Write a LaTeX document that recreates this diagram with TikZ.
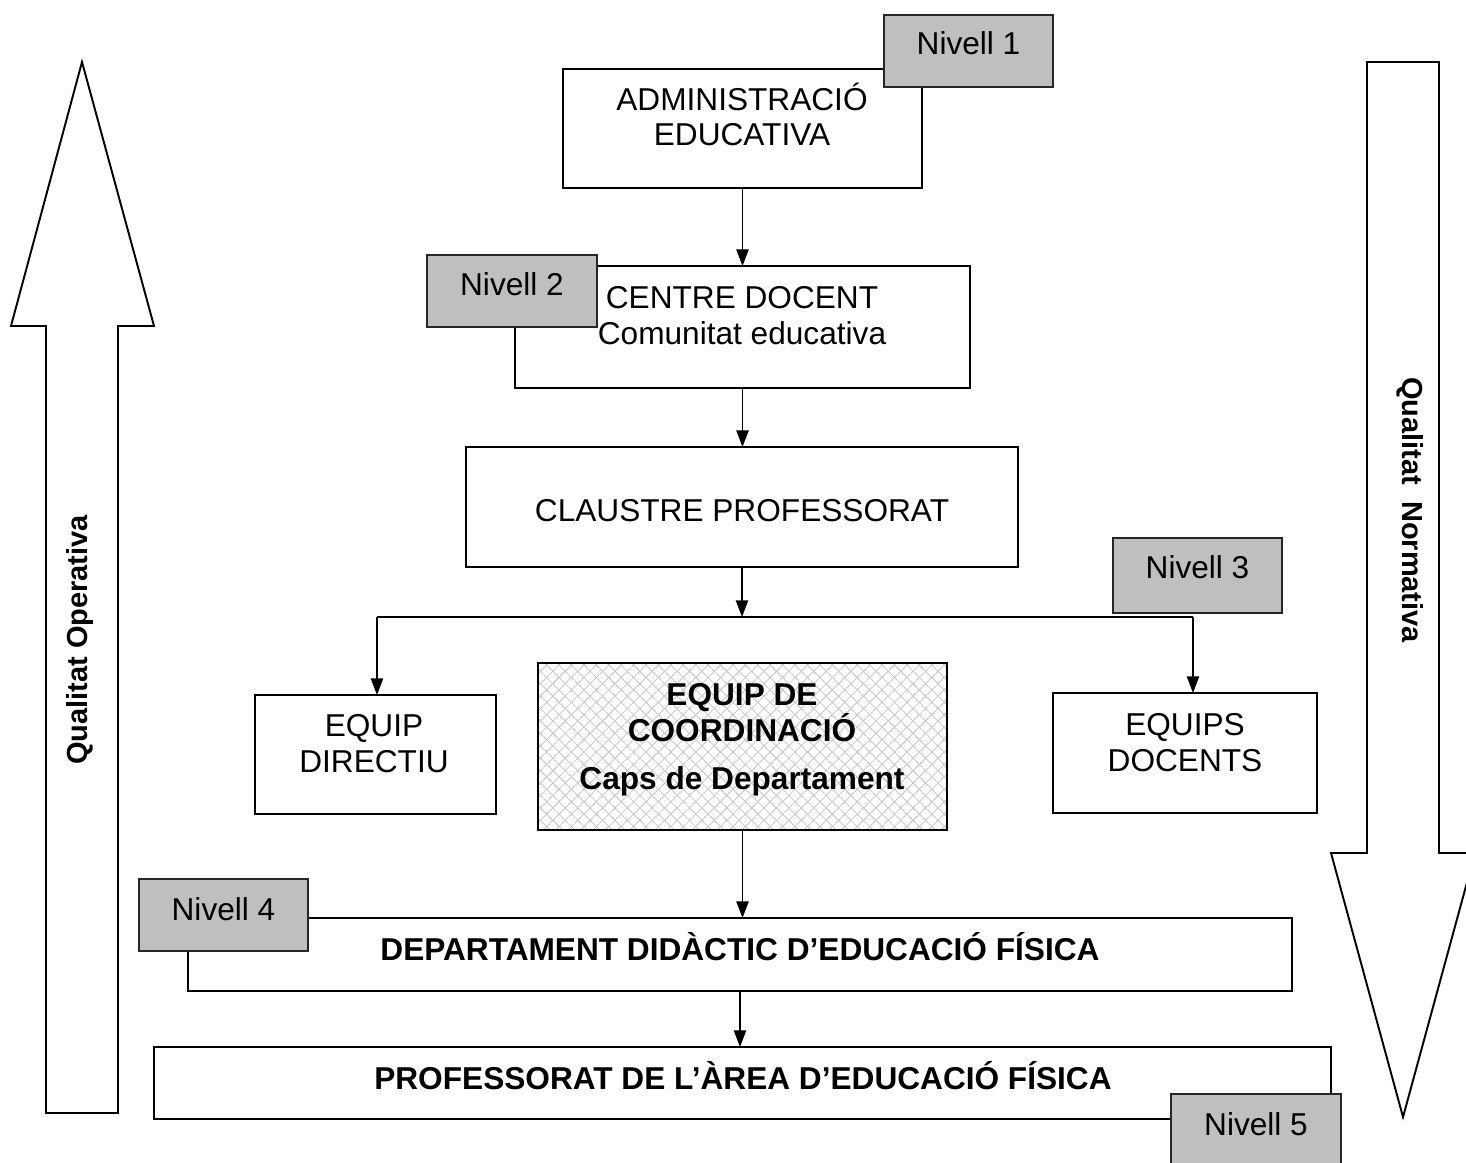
\documentclass[tikz,border=0pt]{standalone}
\usepackage{fontspec}
\setmainfont{Liberation Sans}
\usetikzlibrary{arrows.meta,fit,patterns.meta}
\begin{document}
\begin{tikzpicture}[x=0.02cm,y=-0.02cm,
  box/.style={draw,line width=1.1pt,inner sep=0pt,outer sep=0pt},
  lvl/.style={draw=black!85,line width=1.1pt,fill=black!25,inner sep=0pt,outer sep=0pt},
  txt/.style={font=\fontsize{18}{20.4}\selectfont,align=center,inner sep=0pt,anchor=base},
  btxt/.style={txt,font=\fontsize{18}{20.4}\selectfont\bfseries},
  arr/.style={line width=0.9pt,-{Triangle[width=7pt,length=9.5pt]}},
  big/.style={line width=1.1pt,line join=miter},
  side/.style={font=\fontsize{16.5}{18}\selectfont\bfseries,inner sep=0pt}]
\useasboundingbox (0,0) rectangle (1466,1162);

% big side arrows
\draw[big] (46,1113) -- (46,326) -- (11,326) -- (82,62) -- (154,326) -- (118,326) -- (118,1113) -- cycle;
\draw[big] (1367,62) -- (1439,62) -- (1439,853) -- (1475,853) -- (1403,1117) -- (1331,853) -- (1367,853) -- cycle;
\node[side,rotate=90] (qo) at (80,640) {Qualitat Operativa};
\node[side,rotate=-90] (qn) at (1410,510) {Qualitat\ \ Normativa};

% main boxes
\node[box,fit={(563,69)(922,188)}] (adm) {};
\node[txt] (admt) at (742,146) {ADMINISTRACIÓ\\EDUCATIVA};
\node[box,fit={(515,266)(970,388)}] (cen) {};
\node[txt] (cent) at (742,344) {CENTRE DOCENT\\Comunitat educativa};
\node[box,fit={(466,447)(1018,567)}] (cla) {};
\node[txt] (clat) at (742,521) {CLAUSTRE PROFESSORAT};
\node[box,fit={(255,695)(496,814)}] (dir) {};
\node[txt] (dirt) at (374,772) {EQUIP\\DIRECTIU};
\node[box,fit={(538,663)(947,830)},postaction={pattern={Hatch[angle=45,distance=5pt,line width=0.45pt]},pattern color=black!22}] (coo) {};
\node[box,fit={(538,663)(947,830)}] (coob) {};
\node[btxt] (coot) at (742,789) {EQUIP DE\\COORDINACIÓ\\[6.5pt]Caps de Departament};
\node[box,fit={(1053,693)(1317,813)}] (doc) {};
\node[txt] (doct) at (1185,771) {EQUIPS\\DOCENTS};
\node[box,fit={(188,918)(1292,991)}] (dep) {};
\node[btxt] (dept) at (740,960) {DEPARTAMENT DIDÀCTIC D’EDUCACIÓ FÍSICA};
\node[box,fit={(154,1047)(1331,1119)}] (pro) {};
\node[btxt] (prot) at (743,1089) {PROFESSORAT DE L’ÀREA D’EDUCACIÓ FÍSICA};

% connectors
\draw[arr] (adm.south) -- (adm.south |- cen.north);
\draw[arr] (cen.south) -- (cen.south |- cla.north);
\coordinate (br) at (742,617);
\coordinate (brL) at (377,617);
\coordinate (brR) at (1193,617);
\draw[arr] (cla.south) -- (br);
\draw[line width=0.9pt] (brL) -- (brR);
\draw[arr] (brL) -- (brL |- dir.north);
\draw[arr] (brR) -- (brR |- doc.north);
\draw[arr] (coob.south) -- (coob.south |- dep.north);
\draw[arr] (dep.south) -- (dep.south |- pro.north);

% level tags
\node[lvl,fit={(884,15)(1053,87)}] (n1) {};
\node[txt] (n1t) at (968.5,55) {Nivell 1};
\node[lvl,fit={(427,255)(597,327)}] (n2) {};
\node[txt] (n2t) at (512,295) {Nivell 2};
\node[lvl,fit={(1113,538)(1282,613)}] (n3) {};
\node[txt] (n3t) at (1197.5,578) {Nivell 3};
\node[lvl,fit={(139,879)(308,951)}] (n4) {};
\node[txt] (n4t) at (223.5,920) {Nivell 4};
\node[lvl,fit={(1171,1094)(1341,1175)}] (n5) {};
\node[txt] (n5t) at (1256,1135) {Nivell 5};
\end{tikzpicture}
\end{document}
